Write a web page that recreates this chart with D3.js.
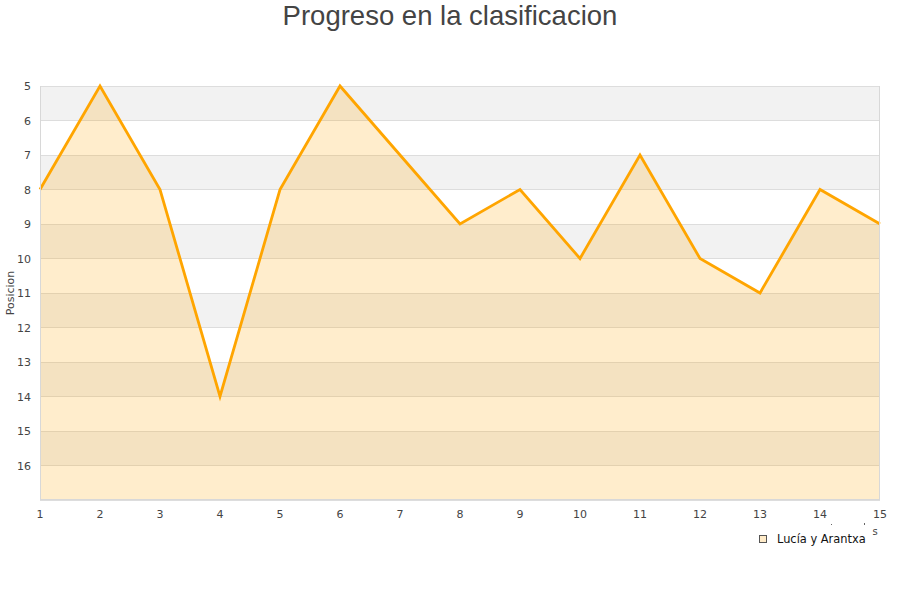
<!DOCTYPE html>
<html><head><meta charset="utf-8">
<script src="https://cdn.jsdelivr.net/npm/d3@7/dist/d3.min.js"></script>
<style>body{margin:0;background:#fff;font-family:"DejaVu Sans",sans-serif;}</style>
</head><body><svg id="c" width="900" height="600"></svg>
<script>
const jornadas = [1,2,3,4,5,6,7,8,9,10,11,12,13,14,15];
const posiciones = [8,5,8,14,8,5,7,9,8,10,7,10,11,8,9];
const yTicks = [5,6,7,8,9,10,11,12,13,14,15,16];
const seriesName = "Lucía y Arantxa";
const title = "Progreso en la clasificacion";
const yTitle = "Posicion";

const svg = d3.select("#c");
const L=40, R=880, T=86, B=500;
const x = d3.scaleLinear().domain([1,15]).range([L,R]);
const y = d3.scaleLinear().domain([5,17]).range([T,B]);

// bands
const bands = d3.range(5,17);
svg.selectAll("rect.band").data(bands).enter().append("rect")
  .attr("x",L).attr("width",R-L)
  .attr("y",d=>y(d)).attr("height",d=>y(d+1)-y(d))
  .attr("fill",(d,i)=> i%2===0 ? "#f2f2f2" : "#ffffff");
// grid
svg.selectAll("line.grid").data(d3.range(5,18)).enter().append("line")
  .attr("x1",L).attr("x2",R).attr("y1",d=>y(d)).attr("y2",d=>y(d))
  .attr("stroke","#dddddd").attr("stroke-width",1).attr("shape-rendering","crispEdges");
// area
const area = d3.area().x((d,i)=>x(jornadas[i])).y0(B).y1(d=>y(d));
svg.append("path").datum(posiciones).attr("d",area)
  .attr("fill","rgb(255,165,0)").attr("fill-opacity",0.2);
const line = d3.line().x((d,i)=>x(jornadas[i])).y(d=>y(d));
svg.append("path").datum(posiciones).attr("d",line)
  .attr("fill","none").attr("stroke","#ffa500").attr("stroke-width",2.8).attr("stroke-linejoin","miter");
// border
svg.append("line").attr("x1",L+0.5).attr("x2",L+0.5).attr("y1",T).attr("y2",B).attr("stroke","#d8d8d8");
svg.append("line").attr("x1",R-0.5).attr("x2",R-0.5).attr("y1",T).attr("y2",B).attr("stroke","#d8d8d8");
svg.append("line").attr("x1",L).attr("x2",R).attr("y1",B-0.5).attr("y2",B-0.5).attr("stroke","#d8d8d8");

// y labels
svg.selectAll("text.yl").data(yTicks).enter().append("text")
  .attr("x",31).attr("y",d=>y(d)+4).attr("text-anchor","end")
  .attr("font-size",11).attr("fill","#444").text(d=>d);
// x labels
svg.selectAll("text.xl").data(jornadas).enter().append("text")
  .attr("x",d=>x(d)).attr("y",518).attr("text-anchor","middle")
  .attr("font-size",11).attr("fill","#444").text(d=>d);
// y title
svg.append("text").attr("transform","translate(14,293) rotate(-90)")
  .attr("text-anchor","middle").attr("font-size",11).attr("fill","#444").text(yTitle);
// title
svg.append("text").attr("x",450).attr("y",25).attr("text-anchor","middle")
  .attr("font-size",27.5).attr("font-family","'Liberation Sans',Arial,sans-serif").attr("fill","#444").text(title);
// stray text
svg.append("text").attr("x",875).attr("y",535).attr("text-anchor","middle").attr("font-size",10).attr("fill","#444").text("s");
svg.append("rect").attr("x",831).attr("y",524).attr("width",1).attr("height",1).attr("fill","#666");
svg.append("rect").attr("x",864).attr("y",523).attr("width",1).attr("height",2).attr("fill","#666");
// legend
svg.append("rect").attr("x",759.5).attr("y",535.5).attr("width",7).attr("height",7)
  .attr("fill","#ffebc8").attr("stroke","#555").attr("stroke-width",1);
svg.append("text").attr("x",777).attr("y",543).attr("font-size",11.4).attr("fill","#111").text(seriesName);
</script></body></html>
